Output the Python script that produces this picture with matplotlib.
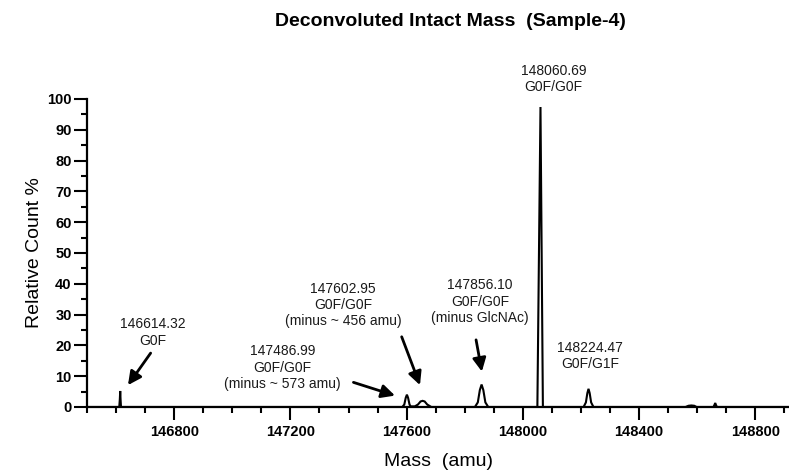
import matplotlib
matplotlib.use("Agg")
import matplotlib.pyplot as plt
from matplotlib.ticker import MultipleLocator, StrMethodFormatter

plt.rcParams['font.family'] = ['Liberation Sans', 'DejaVu Sans']

# deconvoluted spectrum trace (mass in amu, relative count %)
mass = [146500, 146611, 146613, 146614.3, 146615.5, 146617,
        147585, 147592, 147597, 147601, 147605, 147610, 147614,
        147628, 147639, 147648, 147655, 147662, 147671, 147685,
        147835, 147845, 147852, 147858, 147864, 147871, 147881,
        148050, 148060.7, 148069,
        148209, 148217, 148222, 148226, 148230, 148235, 148243,
        148560, 148570, 148580, 148590, 148598,
        148656, 148660, 148662, 148664, 148668, 148916]
count = [0, 0, 2.5, 5.2, 2.5, 0,
         0, 0.8, 3.0, 4.0, 3.0, 0.8, 0.2,
         0.2, 0.8, 1.8, 2.0, 1.8, 0.8, 0,
         0, 1.5, 5.5, 7.3, 5.5, 1.5, 0,
         0, 97.4, 0,
         0, 1.5, 4.5, 5.9, 4.5, 1.5, 0,
         0, 0.4, 0.5, 0.4, 0,
         0, 0.8, 1.3, 0.8, 0, 0]

# annotation labels: text, text centre (mass, count)
labels = ['146614.32\nG0F',
          '147486.99\nG0F/G0F\n(minus ~ 573 amu)',
          '147602.95\nG0F/G0F\n(minus ~ 456 amu)',
          '147856.10\nG0F/G0F\n(minus GlcNAc)',
          '148060.69\nG0F/G0F',
          '148224.47\nG0F/G1F']
label_x = [146726, 147172, 147382, 147853, 148105, 148231]
label_y = [24.2, 12.8, 33.1, 34.2, 106.5, 16.6]

# arrows: tail -> head (mass, count)
arrow_tail = [(146719, 17.5), (147417, 8.0), (147583, 22.8), (147839, 21.8)]
arrow_head = [(146641, 7.1), (147560, 3.7), (147646, 7.1), (147859, 11.5)]

fig = plt.figure(figsize=(7.89, 4.72), dpi=100)
ax = fig.add_axes([87/789, 1-407/472, 1-87/789, (407-99)/472])

ax.plot(mass, count, color='black', lw=1.5, solid_joinstyle='miter')

for txt, x, y in zip(labels, label_x, label_y):
    ax.text(x, y, txt, ha='center', va='center', fontsize=10, color='#1a1a1a',
            linespacing=1.2, clip_on=False)

for t, h in zip(arrow_tail, arrow_head):
    ax.annotate('', xy=h, xytext=t,
                arrowprops=dict(arrowstyle='-|>', color='black', lw=2,
                                mutation_scale=20, shrinkA=0, shrinkB=0),
                annotation_clip=False)

ax.set_xlim(146500, 148916)
ax.set_ylim(0, 100)
ax.xaxis.set_major_locator(MultipleLocator(400))
ax.xaxis.set_minor_locator(MultipleLocator(100))
ax.xaxis.set_major_formatter(StrMethodFormatter('{x:.0f}'))
ax.yaxis.set_major_locator(MultipleLocator(10))
ax.yaxis.set_minor_locator(MultipleLocator(5))

for side in ['top', 'right']:
    ax.spines[side].set_visible(False)
for side in ['left', 'bottom']:
    ax.spines[side].set_linewidth(1.6)

ax.tick_params(which='major', length=9.5, width=1.5, direction='out')
ax.tick_params(which='minor', length=4.5, width=1.5, direction='out')
ax.tick_params(axis='x', which='major', pad=3.5)
ax.tick_params(axis='y', which='major', pad=1.5)
for lab in ax.get_xticklabels() + ax.get_yticklabels():
    lab.set_fontweight('bold')
    lab.set_fontsize(10.5)

ax.set_xlabel('Mass  (amu)', fontsize=14, labelpad=10)
ax.set_ylabel('Relative Count %', fontsize=14, labelpad=3)

fig.text(450/789, 1-21/472, 'Deconvoluted Intact Mass  (Sample-4)',
         ha='center', va='center', fontsize=14, fontweight='bold')

fig.savefig('out.png', dpi=100)
